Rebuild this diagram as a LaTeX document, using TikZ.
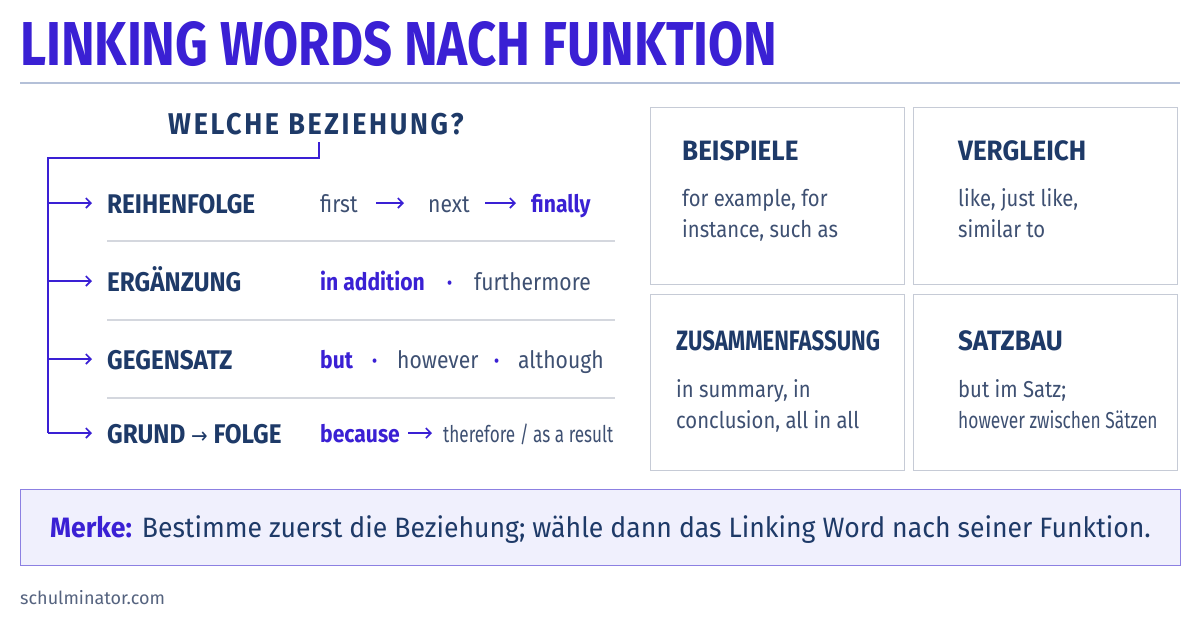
\documentclass[tikz,border=0pt]{standalone}
\usepackage{fontspec}
\setmainfont{Fira Sans}
\newfontfamily\condT{Fira Sans}[FakeStretch=0.82]
\newfontfamily\condQ{Fira Sans}[FakeStretch=0.9, LetterSpace=9]
\newfontfamily\condL{Fira Sans}[FakeStretch=0.9]
\newfontfamily\condH{Fira Sans}[FakeStretch=0.93]
\newfontfamily\condZ{Fira Sans}[FakeStretch=0.79]
\newfontfamily\condB{Fira Sans}[FakeStretch=0.8]
\newfontfamily\condS{Fira Sans}[FakeStretch=0.755]
\newfontfamily\condR{Fira Sans}[FakeStretch=0.745]
\newfontfamily\condM{Fira Sans}[FakeStretch=0.95]
\newfontfamily\condC{Fira Sans}[FakeStretch=0.88]
\usetikzlibrary{arrows.meta}
\definecolor{titlec}{HTML}{3A20D4}
\definecolor{navy}{HTML}{1E3A68}
\definecolor{bodyc}{HTML}{3E5072}
\definecolor{rulec}{HTML}{B4C0D8}
\definecolor{sepc}{HTML}{D4D7DE}
\definecolor{boxc}{HTML}{C6CBD6}
\definecolor{merkefill}{HTML}{F0F0FD}
\definecolor{merkeline}{HTML}{8C80E2}
\definecolor{footc}{HTML}{55637F}
\tikzset{
  txt/.style={inner sep=0pt, anchor=base west},
  lbl/.style={txt, font=\condL\bfseries\fontsize{27}{27}\selectfont, text=navy},
  ex/.style={txt, font=\condC\fontsize{24}{24}\selectfont, text=bodyc},
  exb/.style={txt, font=\condC\bfseries\fontsize{24}{24}\selectfont, text=titlec},
  dotc/.style={txt, font=\condC\bfseries\fontsize{24}{24}\selectfont, text=titlec},
  tarrow/.style={draw=titlec, line width=1.6pt, -{Straight Barb[length=5pt,width=10pt]}},
  tree/.style={draw=titlec, line width=1.6pt},
  sep/.style={draw=sepc, line width=1.2pt},
  card/.style={draw=boxc, line width=1.2pt, fill=white, anchor=north west, inner sep=0pt},
  cardh/.style={txt, font=\condH\bfseries\fontsize{28}{28}\selectfont, text=navy},
  cardt/.style={txt, font=\condC\fontsize{23}{23}\selectfont, text=bodyc},
}
\begin{document}
\begin{tikzpicture}[x=1pt,y=-1pt]
\useasboundingbox[fill=white] (0,0) rectangle (1200,630);

% title
\node[txt, font=\condT\bfseries\fontsize{62}{62}\selectfont, text=titlec] (title) at (20,65) {LINKING WORDS NACH FUNKTION};
\coordinate (rl) at (20,83);
\coordinate (rr) at (1180,83);
\draw[rulec, line width=1.5pt] (rl) -- (rr);

% question
\node[inner sep=0pt, anchor=base west, font=\condQ\bfseries\fontsize{30}{30}\selectfont, text=navy] (q) at (168,134) {WELCHE BEZIEHUNG?};
\coordinate (qt) at (319,142);
\coordinate (corner) at (48,158);
\coordinate (t1) at (48,203);
\coordinate (t2) at (48,281);
\coordinate (t3) at (48,359);
\coordinate (t4) at (48,433);
\coordinate (a1) at (92,203);
\coordinate (a2) at (92,281);
\coordinate (a3) at (92,359);
\coordinate (a4) at (92,433);
\draw[tree] (qt) |- (corner) -- (t4);
\draw[tarrow] (t1) -- (a1);
\draw[tarrow] (t2) -- (a2);
\draw[tarrow] (t3) -- (a3);
\draw[tarrow] (t4) -- (a4);

% labels
\node[lbl] (l1) at (107,213) {REIHENFOLGE};
\node[lbl] (l2) at (107,291) {ERGÄNZUNG};
\node[lbl] (l3) at (107,369) {GEGENSATZ};
\node[lbl] (l4) at (107,443) {GRUND {\fontspec{DejaVu Sans}[FakeStretch=0.9]\mdseries\fontsize{22}{22}\selectfont →} FOLGE};

% row 1
\node[ex] (r1a) at (320,212) {first};
\node[ex] (r1b) at (428,212) {next};
\node[exb] (r1c) at (531,212) {finally};
\coordinate (r1p) at (376,203); \coordinate (r1q) at (404,203);
\coordinate (r1r) at (485,203); \coordinate (r1s) at (516,203);
\draw[tarrow] (r1p) -- (r1q);
\draw[tarrow] (r1r) -- (r1s);

% row 2
\node[exb] (r2a) at (320,290) {in addition};
\node[dotc] (r2d) at (447,290) {·};
\node[ex] (r2b) at (474,290) {furthermore};

% row 3
\node[exb] (r3a) at (320,368) {but};
\node[dotc] (r3d) at (372,368) {·};
\node[ex] (r3b) at (397,368) {however};
\node[dotc] (r3e) at (494,368) {·};
\node[ex] (r3c) at (518,368) {although};

% row 4
\node[exb] (r4a) at (320,442) {because};
\coordinate (r4p) at (408,433); \coordinate (r4q) at (432,433);
\draw[tarrow] (r4p) -- (r4q);
\node[ex, font=\condR\fontsize{23}{23}\selectfont] (r4b) at (443,442) {therefore / as a result};

% separators
\coordinate (s1l) at (107,241); \coordinate (s1r) at (615,241);
\coordinate (s2l) at (107,320); \coordinate (s2r) at (615,320);
\coordinate (s3l) at (107,398); \coordinate (s3r) at (615,398);
\draw[sep] (s1l) -- (s1r);
\draw[sep] (s2l) -- (s2r);
\draw[sep] (s3l) -- (s3r);

% cards
\node[card, minimum width=254pt, minimum height=177pt] (c1) at (650,107) {};
\node[card, minimum width=264pt, minimum height=177pt] (c2) at (913,107) {};
\node[card, minimum width=254pt, minimum height=176pt] (c3) at (650,294) {};
\node[card, minimum width=264pt, minimum height=176pt] (c4) at (913,294) {};

\node[cardh] (h1) at (682,160) {BEISPIELE};
\node[cardt] (b1a) at (682,206) {for example, for};
\node[cardt] (b1b) at (682,237) {instance, such as};

\node[cardh] (h2) at (958,160) {VERGLEICH};
\node[cardt] (b2a) at (958,206) {like, just like,};
\node[cardt] (b2b) at (958,237) {similar to};

\node[cardh, font=\condZ\bfseries\fontsize{28}{28}\selectfont] (h3) at (676,350) {ZUSAMMENFASSUNG};
\node[cardt] (b3a) at (676,397) {in summary, in};
\node[cardt] (b3b) at (676,428) {conclusion, all in all};

\node[cardh] (h4) at (958,350) {SATZBAU};
\node[cardt] (b4a) at (958,397) {but im Satz;};
\node[cardt, font=\condS\fontsize{23}{23}\selectfont] (b4b) at (958,428) {however zwischen Sätzen};

% merke
\node[draw=merkeline, line width=1.3pt, fill=merkefill, anchor=north west, minimum width=1160pt, minimum height=76pt, inner sep=0pt] (mbox) at (20,489) {};
\node[inner sep=0pt, anchor=base west, font=\condM\fontsize{28}{28}\selectfont, text=navy] (mtext) at (50,537) {{\bfseries\color{titlec}Merke:}\hspace{10pt}Bestimme zuerst die Beziehung; wähle dann das Linking Word nach seiner Funktion.};

% footer
\node[txt, font=\fontsize{18}{18}\selectfont, text=footc] (foot) at (20,604) {schulminator.com};
\end{tikzpicture}
\end{document}
